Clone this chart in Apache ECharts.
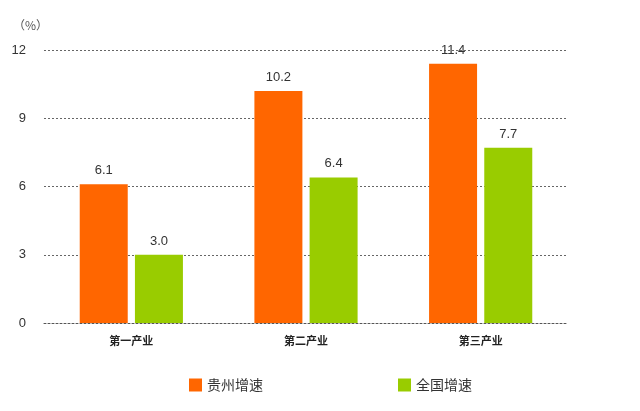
<!DOCTYPE html>
<html><head><meta charset="utf-8">
<script src="https://cdn.jsdelivr.net/npm/echarts@6/dist/echarts.min.js"></script>
<style>html,body{margin:0;padding:0;background:#fff}#c{width:640px;height:411px}</style>
</head><body><div id="c"></div>
<script>
const categories = ['第一产业', '第二产业', '第三产业'];
const guizhou = [6.1, 10.2, 11.4];
const national = [3.0, 6.4, 7.7];
const yTicks = [0, 3, 6, 9, 12];
const seriesNames = ['贵州增速', '全国增速'];

const chart = echarts.init(document.getElementById('c'));
const lbl = {show: true, position: 'top', distance: 7, color: '#333', fontSize: 13, fontFamily: 'Liberation Sans, Arial', formatter: p => p.value.toFixed(1)};
chart.setOption({
  animation: false,
  backgroundColor: '#fff',
  grid: {left: 44, right: 72, top: 50, bottom: 88},
  title: {text: '（%）', left: 8, top: 14, textStyle: {fontSize: 12, fontWeight: 'normal', color: '#555', fontFamily: 'Noto Sans CJK SC'}},
  legend: [
    {data: [seriesNames[0]], left: 184, top: 373, itemWidth: 13, itemHeight: 13, itemGap: 4, icon: 'rect', textStyle: {fontSize: 14, color: '#333', fontFamily: 'Noto Sans CJK SC'}},
    {data: [seriesNames[1]], left: 393, top: 373, itemWidth: 13, itemHeight: 13, itemGap: 4, icon: 'rect', textStyle: {fontSize: 14, color: '#333', fontFamily: 'Noto Sans CJK SC'}}
  ],
  xAxis: {
    type: 'category', data: categories,
    axisLine: {show: true, lineStyle: {color: '#555', type: [2, 2], width: 1}},
    axisTick: {show: false},
    axisLabel: {color: '#222', fontSize: 11, fontWeight: 'bold', margin: 12, fontFamily: 'Noto Sans CJK SC'}
  },
  yAxis: {
    type: 'value', min: yTicks[0], max: yTicks[yTicks.length - 1], interval: 3,
    axisLine: {show: false}, axisTick: {show: false},
    axisLabel: {color: '#333', fontSize: 13, margin: 18, fontFamily: 'Liberation Sans, Arial'},
    splitLine: {lineStyle: {color: '#666', type: [2, 2], width: 1}}
  },
  series: [
    {name: seriesNames[0], type: 'bar', data: guizhou, barWidth: 48, barGap: '15%', itemStyle: {color: '#FF6600'}, label: lbl},
    {name: seriesNames[1], type: 'bar', data: national, barWidth: 48, barGap: '15%', itemStyle: {color: '#99CC00'}, label: lbl}
  ]
});
</script></body></html>
